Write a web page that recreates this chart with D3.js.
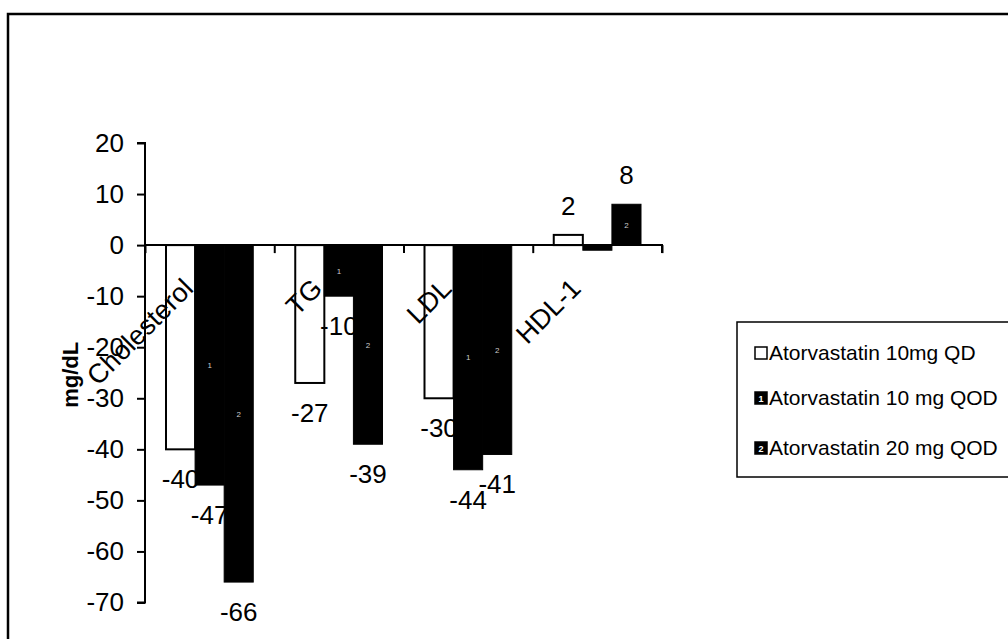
<!DOCTYPE html>
<html>
<head>
<meta charset="utf-8">
<script src="https://cdn.jsdelivr.net/npm/d3@7"></script>
<style>
  html, body { margin: 0; padding: 0; background: #fff; }
  svg { display: block; font-family: "Liberation Sans", Arial, sans-serif; }
</style>
</head>
<body>
<svg id="chart" width="1008" height="639"></svg>
<script>
// ---- data ----
const categories = ["Cholesterol", "TG", "LDL", "HDL-1"];
const seriesNames = ["Atorvastatin 10mg QD", "Atorvastatin 10 mg QOD", "Atorvastatin 20 mg QOD"];
const qd10  = [-40, -27, -30, 2];
const qod10 = [-47, -10, -44, -1];
const qod20 = [-66, -39, -41, 8];
const yTicks = [20, 10, 0, -10, -20, -30, -40, -50, -60, -70];
const yTitle = "mg/dL";
// the data label of 10 mg QOD at HDL-1 is not shown in the reference
const hiddenLabels = [[1, "HDL-1"]];

const series = [qd10, qod10, qod20];
const seriesFill = ["#ffffff", "#000000", "#000000"];
const seriesMark = ["", "1", "2"];

const svg = d3.select("#chart");

// outer border
svg.append("rect").attr("x", 8).attr("y", 14).attr("width", 1010).attr("height", 640)
  .attr("fill", "none").attr("stroke", "#000").attr("stroke-width", 2.5);

const x = d3.scaleBand().domain(categories).range([145, 662])
  .paddingInner(0.325).paddingOuter(0.1625);
const xs = d3.scaleBand().domain([0, 1, 2]).range([0, x.bandwidth()]);
const y = d3.scaleLinear().domain([-70, 20]).range([602.5, 143]);
const xb = d3.scaleLinear().domain([0, categories.length]).range(x.range());

// y axis
const yAxis = svg.append("g").attr("transform", `translate(${x.range()[0]},0)`)
  .call(d3.axisLeft(y).tickValues(yTicks).tickSize(8).tickPadding(13).tickFormat(d => String(d)));
yAxis.select(".domain").attr("stroke", "#000").attr("stroke-width", 2).attr("d", `M-8,${y(20)}H0V${y(-70)}H-8`);
yAxis.selectAll(".tick line").attr("stroke", "#000").attr("stroke-width", 2);
yAxis.selectAll(".tick text").attr("font-size", 26).attr("fill", "#000")
  .attr("font-family", "'Liberation Sans', Arial, sans-serif");

// y title
svg.append("text")
  .attr("transform", `translate(78,${(y(-10) + y(-40)) / 2 + 2}) rotate(-90)`)
  .attr("text-anchor", "middle")
  .attr("font-size", 22).attr("font-weight", "bold").attr("fill", "#000")
  .text(yTitle);

function drawSeries(si) {
  const vals = series[si];
  const rows = categories.map((c, ci) => ({ c, v: vals[ci] }));
  const g = svg.append("g");
  g.selectAll("rect").data(rows).join("rect")
    .attr("x", d => x(d.c) + xs(si))
    .attr("width", xs.bandwidth())
    .attr("y", d => y(Math.max(0, d.v)))
    .attr("height", d => Math.abs(y(d.v) - y(0)))
    .attr("fill", seriesFill[si])
    .attr("stroke", "#000")
    .attr("stroke-width", si === 0 ? 2 : 1);
  if (seriesMark[si]) {
    g.selectAll("text.mark").data(rows).join("text").attr("class", "mark")
      .attr("x", d => x(d.c) + xs(si) + xs.bandwidth() / 2)
      .attr("y", d => (y(d.v) + y(0)) / 2 + 3)
      .attr("text-anchor", "middle").attr("font-size", 8).attr("fill", "#ccc")
      .text(d => Math.abs(y(d.v) - y(0)) > 12 ? seriesMark[si] : "");
  }
  return { g, rows };
}
function drawLabels(si, rows) {
  svg.append("g").selectAll("text")
    .data(rows.filter(d => !hiddenLabels.some(h => h[0] === si && h[1] === d.c)))
    .join("text")
    .attr("x", d => x(d.c) + xs(si) + xs.bandwidth() / 2)
    .attr("y", d => d.v < 0 ? y(d.v) + 39 : y(d.v) - 20)
    .attr("text-anchor", "middle")
    .attr("font-size", 26)
    .attr("fill", "#000")
    .text(d => String(d.v));
}

// series 1 (white bars)
const s0 = drawSeries(0);
drawLabels(0, s0.rows);

// category labels: over the white bars, beneath the black ones
svg.append("g").selectAll("text").data(categories).join("text")
  .attr("transform", d => `translate(${x(d) + x.bandwidth() / 2 - 15},${y(0) + 45}) rotate(-45)`)
  .attr("text-anchor", "end")
  .attr("font-size", 27)
  .attr("fill", "#000")
  .text(d => d);

// series 2 and 3 (black bars)
[1, 2].forEach(si => {
  const s = drawSeries(si);
  drawLabels(si, s.rows);
});

// x axis (category boundaries)
const xAxis = svg.append("g").attr("transform", `translate(0,${y(0)})`)
  .call(d3.axisBottom(xb).ticks(categories.length).tickSize(8).tickFormat(""));
xAxis.select(".domain").attr("stroke", "#000").attr("stroke-width", 2)
  .attr("d", `M${x.range()[0]},0H${x.range()[1]}V8`);
xAxis.selectAll(".tick line").attr("stroke", "#000").attr("stroke-width", 2);

// legend
const lg = svg.append("g");
lg.append("rect").attr("x", 737).attr("y", 322).attr("width", 300).attr("height", 155)
  .attr("fill", "#fff").attr("stroke", "#000").attr("stroke-width", 1.5);
const baselines = [360, 405, 455];
seriesNames.forEach((name, i) => {
  lg.append("rect").attr("x", 755).attr("y", baselines[i] - 13).attr("width", 12).attr("height", 12)
    .attr("fill", seriesFill[i]).attr("stroke", "#000").attr("stroke-width", 1.5);
  if (seriesMark[i]) {
    lg.append("text").attr("x", 761).attr("y", baselines[i] - 3).attr("text-anchor", "middle")
      .attr("font-size", 9).attr("font-weight", "bold").attr("fill", "#fff").text(seriesMark[i]);
  }
  lg.append("text").attr("x", 769).attr("y", baselines[i])
    .attr("font-size", 21).attr("fill", "#000").text(name);
});
</script>
</body>
</html>
